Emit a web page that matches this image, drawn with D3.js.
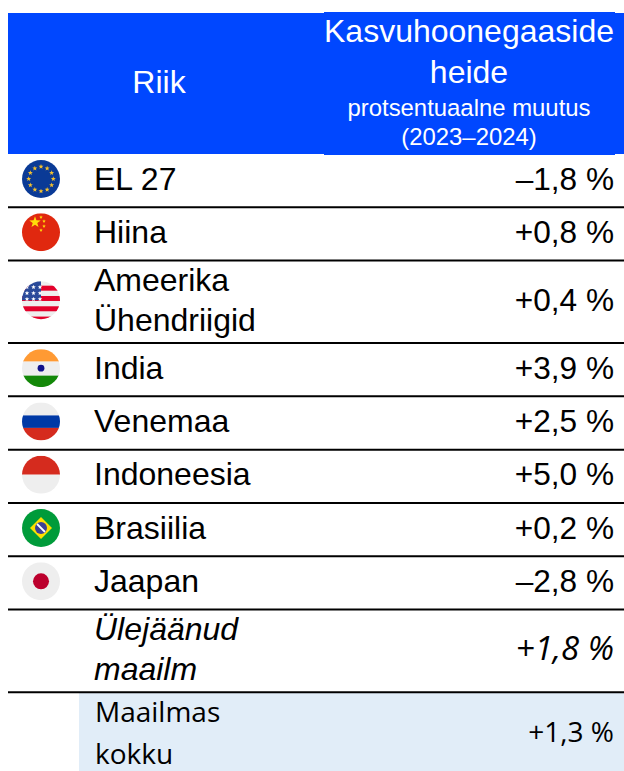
<!DOCTYPE html>
<html>
<head>
  <meta charset="utf-8">
  <title>Kasvuhoonegaaside heide</title>
  <script src="https://d3js.org/d3.v7.min.js"></script>
  <style>
    body { margin: 0; background: white; }
    svg { display: block; }
    .arial { font-family: "Liberation Sans", sans-serif; }
    .soft { font-family: "Open Sans", sans-serif; }
  </style>
</head>
<body>
  <div id="table"></div>
  <script>
    const countries = [["EL 27"], ["Hiina"], ["Ameerika", "Ühendriigid"], ["India"], ["Venemaa"], ["Indoneesia"], ["Brasiilia"], ["Jaapan"], ["Ülejäänud", "maailm"], ["Maailmas", "kokku"]];
    const changes = [-1.8, 0.8, 0.4, 3.9, 2.5, 5.0, 0.2, -2.8, 1.8, 1.3];
    const flags = ["eu", "china", "usa", "india", "russia", "indonesia", "brazil", "japan", null, null];
    const headerLeft = "Riik";
    const headerRight = ["Kasvuhoonegaaside", "heide"];
    const headerSub = ["protsentuaalne muutus", "(2023–2024)"];

    const width = 624, height = 771;
    const blue = "#0047ff";

    // row heights in units of a one line row
    const units = countries.map((c, i) => i === 9 ? 1.48 : c.length === 2 ? 1.55 : 1);
    const cumulative = [0, ...d3.cumsum(units)];
    const y = d3.scaleLinear().domain([0, d3.sum(units)]).range([153.9, height]);

    const svg = d3.select("#table").append("svg").attr("width", width).attr("height", height);

    const formatValue = v => (v < 0 ? "–" : "+") + Math.abs(v).toFixed(1).replace(".", ",") + " %";

    // header
    svg.append("rect").attr("x", 8).attr("y", 13).attr("width", 616).attr("height", 141).attr("fill", blue);
    svg.append("rect").attr("x", 324).attr("y", 12).attr("width", 291).attr("height", 143).attr("fill", blue);
    svg.append("text").attr("class", "arial").attr("x", 159).attr("y", 93)
      .attr("text-anchor", "middle").attr("font-size", 32).attr("fill", "white").text(headerLeft);
    svg.append("g").selectAll("text").data(headerRight).join("text").attr("class", "arial")
      .attr("x", 469).attr("y", (d, i) => 42 + i * 41)
      .attr("text-anchor", "middle").attr("font-size", 32).attr("fill", "white").text(d => d);
    svg.append("g").selectAll("text").data(headerSub).join("text").attr("class", "arial")
      .attr("x", 469).attr("y", (d, i) => 116 + i * 29)
      .attr("text-anchor", "middle").attr("font-size", 23.9).attr("fill", "white").text(d => d);

    // total row background
    svg.append("rect").attr("x", 79).attr("y", y(cumulative[9])).attr("width", width - 79)
      .attr("height", height - y(cumulative[9])).attr("fill", "#e1edf8");

    // separators
    svg.append("g").selectAll("line").data(cumulative.slice(1, 10)).join("line")
      .attr("x1", 8).attr("x2", width)
      .attr("y1", d => y(d)).attr("y2", d => y(d))
      .attr("stroke", "black").attr("stroke-width", 2);

    const rows = svg.append("g").selectAll("g").data(countries).join("g")
      .attr("transform", (d, i) => `translate(0,${(y(cumulative[i]) + y(cumulative[i + 1])) / 2})`);

    rows.selectAll("text.name")
      .data((d, i) => d.map((line, j) => ({ line, j, i, n: d.length })))
      .join("text")
      .attr("class", d => "name " + (d.i === 9 ? "soft" : "arial"))
      .attr("x", d => d.i === 9 ? 95 : 94)
      .attr("y", d => d.i === 9 ? -10 + d.j * 42 : d.n === 2 ? -11 + d.j * 40 : 9)
      .attr("font-size", d => d.i === 9 ? 28 : 32)
      .attr("font-style", d => d.i === 8 ? "italic" : null)
      .attr("fill", "black")
      .text(d => d.line);

    rows.append("text")
      .attr("class", (d, i) => i >= 8 ? "soft" : "arial")
      .attr("x", 614)
      .attr("y", (d, i) => i === 9 ? 10 : 9)
      .attr("text-anchor", "end")
      .attr("font-size", (d, i) => i === 9 ? 28 : i === 8 ? 33 : 31.6)
      .attr("font-style", (d, i) => i === 8 ? "italic" : null)
      .attr("fill", "black")
      .text((d, i) => formatValue(changes[i]));

    // flags
    const R = 19;
    const defs = svg.append("defs");
    defs.append("clipPath").attr("id", "flag-clip").append("circle").attr("r", R);

    const star = (outer, inner) => d3.lineRadial()
      .angle((d, i) => i * Math.PI / 5)
      .radius((d, i) => i % 2 ? inner : outer)
      .curve(d3.curveLinearClosed)(d3.range(10));

    const band = (g, y0, y1, color) => g.append("rect").attr("x", -R).attr("width", 2 * R)
      .attr("y", y0).attr("height", y1 - y0).attr("fill", color);

    const drawFlag = {
      eu(g) {
        band(g, -R, R, "#0a3a96");
        g.selectAll("path").data(d3.range(12)).join("path")
          .attr("d", star(2.6, 1.1)).attr("fill", "#f2c02e")
          .attr("transform", d => `rotate(${d * 30}) translate(0,-12.3) rotate(${-d * 30})`);
      },
      china(g) {
        band(g, -R, R, "#e0280f");
        g.append("path").attr("d", star(6, 2.4)).attr("fill", "#ffdc0a").attr("transform", "translate(-6,-10)");
        g.selectAll("path.small").data([[0, -15], [3, -11], [3, -6], [0, -2]]).join("path")
          .attr("class", "small").attr("d", star(1.9, 0.8)).attr("fill", "#ffdc0a")
          .attr("transform", d => `translate(${d[0]},${d[1]})`);
      },
      usa(g) {
        band(g, -R, R, "#eeeeee");
        d3.range(4).forEach(i => band(g, -14.5 + i * 10.3, -9.5 + i * 10.3, "#e4002b"));
        g.append("rect").attr("x", -R).attr("y", -R).attr("width", 19).attr("height", 19).attr("fill", "#2a4a9a");
        g.selectAll("path").data(d3.cross([-14, -7.5, -1], [-13, -7, -1])).join("path")
          .attr("d", star(2.4, 1)).attr("fill", "white")
          .attr("transform", d => `translate(${d[0]},${d[1]})`);
      },
      india(g) {
        band(g, -R, -6.5, "#ff9a33");
        band(g, -6.5, 7.5, "#eeeeee");
        band(g, 7.5, R, "#138808");
        g.append("circle").attr("r", 3.4).attr("fill", "#10108a");
      },
      russia(g) {
        band(g, -R, -6, "#eeeeee");
        band(g, -6, 6.5, "#0039a6");
        band(g, 6.5, R, "#d52b1e");
      },
      indonesia(g) {
        band(g, -R, 0, "#d52b1e");
        band(g, 0, R, "#eeeeee");
      },
      brazil(g) {
        band(g, -R, R, "#009b3a");
        g.append("path").attr("d", "M-11,0L0,-11L11,0L0,11Z").attr("fill", "#fedf00");
        g.append("circle").attr("r", 6).attr("fill", "#3e4095");
        g.append("line").attr("x1", -4).attr("y1", -4).attr("x2", 4).attr("y2", 4)
          .attr("stroke", "white").attr("stroke-width", 1.8);
      },
      japan(g) {
        band(g, -R, R, "#eeeeee");
        g.append("circle").attr("r", 8).attr("fill", "#bc002d");
      }
    };

    flags.forEach((name, i) => {
      if (!name) return;
      const g = svg.append("g")
        .attr("transform", `translate(41,${(y(cumulative[i]) + y(cumulative[i + 1])) / 2 - 1.6})`)
        .append("g").attr("clip-path", "url(#flag-clip)");
      drawFlag[name](g);
    });
  </script>
</body>
</html>
